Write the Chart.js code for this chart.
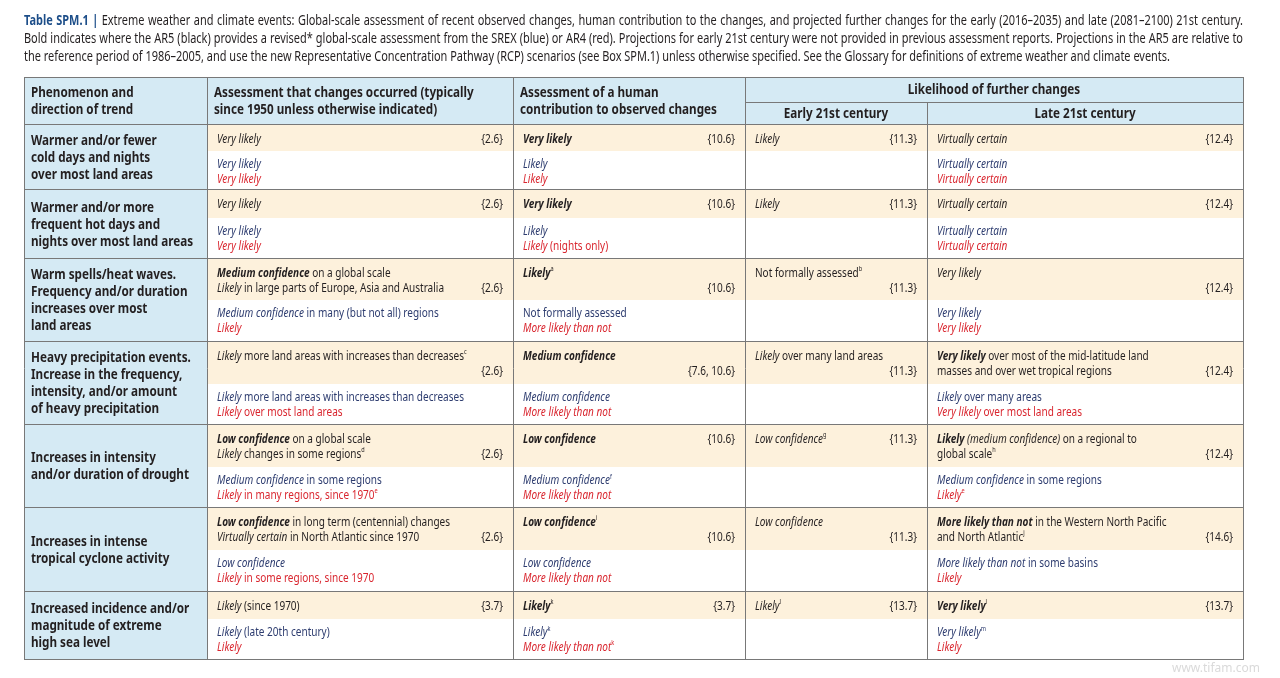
<!DOCTYPE html>
<html>
<head>
<meta charset="utf-8">
<script src="https://cdn.jsdelivr.net/npm/chart.js@4.4.1/dist/chart.umd.min.js"></script>
<style>
  html, body { margin: 0; padding: 0; background: #fff; }
  canvas { display: block; }
</style>
</head>
<body>
<canvas id="spmTable" width="1280" height="678"></canvas>
<script>
// markup: *bold*  _italic_  ^x superscript  \x literal
const caption = [
  "*Table SPM.1 |* Extreme weather and climate events: Global-scale assessment of recent observed changes, human contribution to the changes, and projected further changes for the early (2016–2035) and late (2081–2100) 21st century.",
  "Bold indicates where the AR5 (black) provides a revised\\* global-scale assessment from the SREX (blue) or AR4 (red). Projections for early 21st century were not provided in previous assessment reports. Projections in the AR5 are relative to",
  "the reference period of 1986–2005, and use the new Representative Concentration Pathway (RCP) scenarios (see Box SPM.1) unless otherwise specified. See the Glossary for definitions of extreme weather and climate events."
];

const headerCols = [
  ["Phenomenon and", "direction of trend"],
  ["Assessment that changes occurred (typically", "since 1950 unless otherwise indicated)"],
  ["Assessment of a human", "contribution to observed changes"]
];
const spanHeader = "Likelihood of further changes";
const subHeaders = ["Early 21st century", "Late 21st century"];

const phenomena = [
  ["Warmer and/or fewer", "cold days and nights", "over most land areas"],
  ["Warmer and/or more", "frequent hot days and", "nights over most land areas"],
  ["Warm spells/heat waves.", "Frequency and/or duration", "increases over most", "land areas"],
  ["Heavy precipitation events.", "Increase in the frequency,", "intensity, and/or amount", "of heavy precipitation"],
  ["Increases in intensity", "and/or duration of drought"],
  ["Increases in intense", "tropical cyclone activity"],
  ["Increased incidence and/or", "magnitude of extreme", "high sea level"]
];

const observed = [
  { top: ["_Very likely_"], ref: "{2.6}", at: 0, srex: "_Very likely_", ar4: "_Very likely_" },
  { top: ["_Very likely_"], ref: "{2.6}", at: 0, srex: "_Very likely_", ar4: "_Very likely_" },
  { top: ["*_Medium confidence_* on a global scale", "_Likely_ in large parts of Europe, Asia and Australia"], ref: "{2.6}", at: 1,
    srex: "_Medium confidence_ in many (but not all) regions", ar4: "_Likely_" },
  { top: ["_Likely_ more land areas with increases than decreases^c"], ref: "{2.6}", at: 1,
    srex: "_Likely_ more land areas with increases than decreases", ar4: "_Likely_ over most land areas" },
  { top: ["*_Low confidence_* on a global scale", "_Likely_ changes in some regions^d"], ref: "{2.6}", at: 1,
    srex: "_Medium confidence_ in some regions", ar4: "_Likely_ in many regions, since 1970^e" },
  { top: ["*_Low confidence_* in long term (centennial) changes", "_Virtually certain_ in North Atlantic since 1970"], ref: "{2.6}", at: 1,
    srex: "_Low confidence_", ar4: "_Likely_ in some regions, since 1970" },
  { top: ["_Likely_ (since 1970)"], ref: "{3.7}", at: 0, srex: "_Likely_ (late 20th century)", ar4: "_Likely_" }
];

const human = [
  { top: ["*_Very likely_*"], ref: "{10.6}", at: 0, srex: "_Likely_", ar4: "_Likely_" },
  { top: ["*_Very likely_*"], ref: "{10.6}", at: 0, srex: "_Likely_", ar4: "_Likely_ (nights only)" },
  { top: ["*_Likely_*^a"], ref: "{10.6}", at: 1, srex: "Not formally assessed", ar4: "_More likely than not_" },
  { top: ["*_Medium confidence_*"], ref: "{7.6, 10.6}", at: 1, srex: "_Medium confidence_", ar4: "_More likely than not_" },
  { top: ["*_Low confidence_*"], ref: "{10.6}", at: 0, srex: "_Medium confidence_^f", ar4: "_More likely than not_" },
  { top: ["*_Low confidence_*^i"], ref: "{10.6}", at: 1, srex: "_Low confidence_", ar4: "_More likely than not_" },
  { top: ["*_Likely_*^k"], ref: "{3.7}", at: 0, srex: "_Likely_^k", ar4: "_More likely than not_^k" }
];

const early = [
  { top: ["_Likely_"], ref: "{11.3}", at: 0 },
  { top: ["_Likely_"], ref: "{11.3}", at: 0 },
  { top: ["Not formally assessed^b"], ref: "{11.3}", at: 1 },
  { top: ["_Likely_ over many land areas"], ref: "{11.3}", at: 1 },
  { top: ["_Low confidence_^g"], ref: "{11.3}", at: 0 },
  { top: ["_Low confidence_"], ref: "{11.3}", at: 1 },
  { top: ["_Likely_^l"], ref: "{13.7}", at: 0 }
];

const late = [
  { top: ["_Virtually certain_"], ref: "{12.4}", at: 0, srex: "_Virtually certain_", ar4: "_Virtually certain_" },
  { top: ["_Virtually certain_"], ref: "{12.4}", at: 0, srex: "_Virtually certain_", ar4: "_Virtually certain_" },
  { top: ["_Very likely_"], ref: "{12.4}", at: 1, srex: "_Very likely_", ar4: "_Very likely_" },
  { top: ["*_Very likely_* over most of the mid-latitude land", "masses and over wet tropical regions"], ref: "{12.4}", at: 1,
    srex: "_Likely_ over many areas", ar4: "_Very likely_ over most land areas" },
  { top: ["*_Likely_* _(medium confidence)_ on a regional to", "global scale^h"], ref: "{12.4}", at: 1,
    srex: "_Medium confidence_ in some regions", ar4: "_Likely_^e" },
  { top: ["*_More likely than not_* in the Western North Pacific", "and North Atlantic^j"], ref: "{14.6}", at: 1,
    srex: "_More likely than not_ in some basins", ar4: "_Likely_" },
  { top: ["*_Very likely_*^l"], ref: "{13.7}", at: 0, srex: "_Very likely_^m", ar4: "_Likely_" }
];

const watermark = "www.tifam.com";

// layout (in page units, mapped through the chart scales)
const COLS = [24, 207, 513, 745, 927, 1243];
const HEAD = [77, 102, 124];
const ROWS = [124, 189, 258, 341, 424, 507, 591, 659];
const SPLIT = [151, 218, 300, 384, 467, 550, 619];

const FAM = "'Noto Sans', 'Open Sans', 'DejaVu Sans', sans-serif";
const INK = '#231f20', SREX = '#2d3c6f', AR4 = '#d9262f', TITLE = '#1d4e89';
const BLUE_BG = '#d5eaf4', BEIGE_BG = '#fdf1dc', RULE = '#787878';
const DATA_PX = 12.6, HEAD_PX = 14.6, CAP_PX = 14.4;
const NUDGE = 1.2; // Noto's em box sits high with a 'middle' baseline

function parse(s) {
  const runs = [];
  let b = false, i = false, cur = '';
  for (let k = 0; k < s.length; k++) {
    const ch = s[k];
    if (ch === '\\') { cur += s[++k]; continue; }
    if (ch === '*' || ch === '_' || ch === '^') {
      if (cur) { runs.push({ t: cur, b, i, sup: false }); cur = ''; }
      if (ch === '*') b = !b;
      else if (ch === '_') i = !i;
      else runs.push({ t: s[++k], b: false, i: false, sup: true });
    } else cur += ch;
  }
  if (cur) runs.push({ t: cur, b, i, sup: false });
  return runs;
}

function runFont(r, size) {
  return (r.i ? 'italic ' : '') + (r.b ? 'bold ' : '') + (r.sup ? Math.round(size * 0.58) : size) + 'px ' + FAM;
}

function measureRuns(ctx, runs, size) {
  let w = 0;
  for (const r of runs) {
    ctx.font = runFont(r, size);
    r.w = ctx.measureText(r.t).width;
    w += r.w;
  }
  return w;
}

function drawRuns(ctx, src, x, y, o) {
  const size = o.size;
  const runs = o.runs || parse(src);
  const nat = measureRuns(ctx, runs, size);
  let scale = o.sx || 1, extra = 0, spaces = 0;
  if (o.width) {
    spaces = runs.filter(r => !r.sup).reduce((n, r) => n + r.t.split(' ').length - 1, 0);
    const avail = o.width / scale;
    if (avail >= nat) extra = spaces ? (avail - nat) / spaces : 0;
    else scale = o.width / nat;
  }
  const total = (nat + extra * spaces) * scale;
  const x0 = o.align === 'right' ? x - total : o.align === 'center' ? x - total / 2 : x;
  ctx.save();
  ctx.translate(x0, y + NUDGE);
  ctx.scale(scale, 1);
  ctx.textBaseline = 'middle';
  ctx.textAlign = 'left';
  let cx = 0;
  for (const r of runs) {
    ctx.font = runFont(r, size);
    ctx.fillStyle = (r.b && o.boldColor) || o.color;
    const dy = r.sup ? -size * 0.32 : 0;
    if (extra > 0 && !r.sup) {
      const sw = ctx.measureText(' ').width;
      r.t.split(' ').forEach((p, k) => {
        if (k > 0) cx += sw + extra;
        ctx.fillText(p, cx, dy);
        cx += ctx.measureText(p).width;
      });
    } else {
      ctx.fillText(r.t, cx, dy);
      cx += r.w;
    }
  }
  ctx.restore();
}

function boldRuns(s) { return [{ t: s, b: true, i: false, sup: false }]; }

const tablePlugin = {
  id: 'spmTable',
  afterDraw(chart) {
    const ctx = chart.ctx;
    const X = v => chart.scales.x.getPixelForValue(v);
    const Y = v => chart.scales.y.getPixelForValue(v);

    // width calibration for the condensed type
    const sxData = 227 / measureRuns(ctx, parse("_Likely_ in large parts of Europe, Asia and Australia"), DATA_PX);
    const sxHead = 162 / measureRuns(ctx, boldRuns("nights over most land areas"), HEAD_PX);
    const sxCap = 1146 / measureRuns(ctx, parse(caption[2]), CAP_PX);

    // caption
    caption.forEach((line, k) => {
      drawRuns(ctx, line, X(COLS[0]), Y(20 + k * 18), {
        size: CAP_PX, color: INK, boldColor: TITLE, sx: sxCap,
        width: k < 2 ? X(COLS[5]) - X(COLS[0]) : null
      });
    });

    const rect = (x0, y0, x1, y1, c) => {
      ctx.fillStyle = c;
      ctx.fillRect(X(x0), Y(y0), X(x1) - X(x0), Y(y1) - Y(y0));
    };
    rect(COLS[0], HEAD[0], COLS[5], HEAD[2], BLUE_BG);
    rect(COLS[0], ROWS[0], COLS[1], ROWS[7], BLUE_BG);
    for (let r = 0; r < 7; r++) rect(COLS[1], ROWS[r], COLS[5], SPLIT[r], BEIGE_BG);

    // rules
    ctx.strokeStyle = RULE;
    ctx.lineWidth = 1;
    const hline = (y, x0, x1) => {
      const py = Math.round(Y(y)) + 0.5;
      ctx.beginPath(); ctx.moveTo(X(x0), py); ctx.lineTo(X(x1) + 1, py); ctx.stroke();
    };
    const vline = (x, y0, y1) => {
      const px = Math.round(X(x)) + 0.5;
      ctx.beginPath(); ctx.moveTo(px, Y(y0)); ctx.lineTo(px, Y(y1) + 1); ctx.stroke();
    };
    hline(HEAD[0], COLS[0], COLS[5]);
    hline(HEAD[1], COLS[3], COLS[5]);
    ROWS.forEach(y => hline(y, COLS[0], COLS[5]));
    [0, 1, 2, 3, 5].forEach(c => vline(COLS[c], HEAD[0], ROWS[7]));
    vline(COLS[4], HEAD[1], ROWS[7]);

    // header text
    headerCols.forEach((lines, c) => {
      lines.forEach((t, k) => drawRuns(ctx, t, X(COLS[c] + 7), Y(92 + k * 17),
        { runs: boldRuns(t), size: HEAD_PX, color: INK, sx: sxHead }));
    });
    drawRuns(ctx, spanHeader, X((COLS[3] + COLS[5]) / 2), Y(89),
      { runs: boldRuns(spanHeader), size: HEAD_PX, color: INK, sx: sxHead, align: 'center' });
    subHeaders.forEach((t, k) => drawRuns(ctx, t, X((COLS[3 + k] + COLS[4 + k]) / 2), Y(113),
      { runs: boldRuns(t), size: HEAD_PX, color: INK, sx: sxHead, align: 'center' }));

    // body
    const columns = [observed, human, early, late];
    for (let r = 0; r < 7; r++) {
      const lines = phenomena[r];
      const mid = (ROWS[r] + ROWS[r + 1]) / 2;
      lines.forEach((t, k) => drawRuns(ctx, t, X(COLS[0] + 7), Y(mid + (k - (lines.length - 1) / 2) * 17),
        { runs: boldRuns(t), size: HEAD_PX, color: INK, sx: sxHead }));

      columns.forEach((col, c) => {
        const cell = col[r];
        const left = COLS[c + 1] + 10, right = COLS[c + 2] - 10;
        cell.top.forEach((t, k) => drawRuns(ctx, t, X(left), Y(ROWS[r] + 14 + k * 15),
          { size: DATA_PX, color: INK, sx: sxData }));
        drawRuns(ctx, cell.ref, X(right), Y(ROWS[r] + 14 + cell.at * 15),
          { size: DATA_PX, color: INK, sx: sxData, align: 'right' });
        if (cell.srex) drawRuns(ctx, cell.srex, X(left), Y(SPLIT[r] + 12.5), { size: DATA_PX, color: SREX, sx: sxData });
        if (cell.ar4) drawRuns(ctx, cell.ar4, X(left), Y(SPLIT[r] + 27), { size: DATA_PX, color: AR4, sx: sxData });
      });
    }

    drawRuns(ctx, watermark, X(1260), Y(667),
      { runs: [{ t: watermark, b: false, i: false, sup: false }], size: 12, color: '#dadada', align: 'right' });
  }
};

new Chart(document.getElementById('spmTable'), {
  type: 'scatter',
  data: { datasets: [{ data: [], pointRadius: 0 }] },
  options: {
    responsive: false,
    animation: false,
    devicePixelRatio: 1,
    layout: { padding: 0 },
    scales: {
      x: { type: 'linear', min: 0, max: 1280, display: false },
      y: { type: 'linear', min: 0, max: 678, reverse: true, display: false }
    },
    plugins: { legend: { display: false }, tooltip: { enabled: false } }
  },
  plugins: [tablePlugin]
});
</script>
</body>
</html>
